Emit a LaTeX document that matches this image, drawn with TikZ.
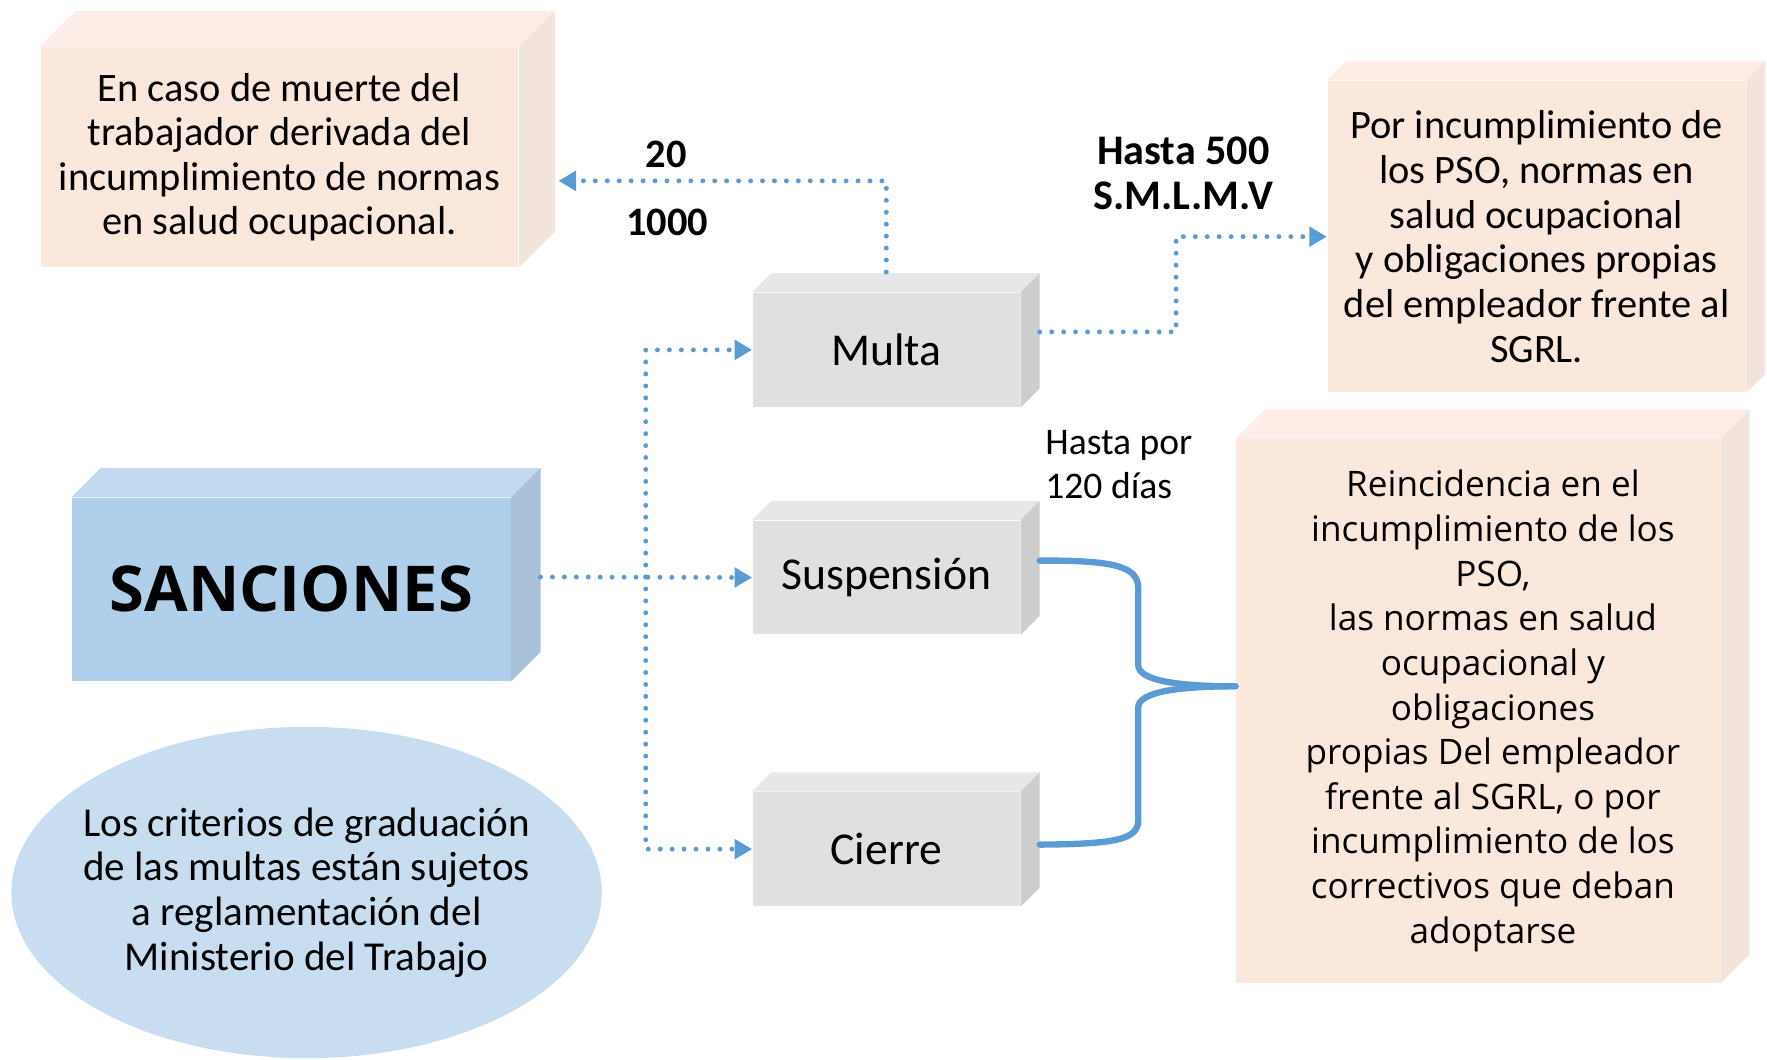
\documentclass[tikz,border=0pt]{standalone}
\usepackage{fontspec}
\setmainfont{Carlito}
\newfontfamily\segoe{Open Sans}
\usetikzlibrary{arrows.meta,positioning,shapes.geometric}
\definecolor{durazno}{HTML}{FBE8DD}
\definecolor{duraznotapa}{HTML}{FCEEE6}
\definecolor{duraznolado}{HTML}{F3E4DB}
\definecolor{gris}{HTML}{E0E0E0}
\definecolor{gristapa}{HTML}{E7E7E7}
\definecolor{grislado}{HTML}{CDCDCD}
\definecolor{celeste}{HTML}{B0CFEA}
\definecolor{celestetapa}{HTML}{C1D8EE}
\definecolor{celestelado}{HTML}{A8C0D8}
\definecolor{ovalo}{HTML}{C8DDF0}
\definecolor{linea}{HTML}{5B9BD5}
\def\px{0.01127cm}
% tapa y lado de una caja 3D: nodo, fondo, color tapa, color lado
\newcommand{\caras}[4]{%
	\fill[#3] (#1.north west) -- ++(#2,-#2) -- ([shift={(#2,-#2)}]#1.north east) -- (#1.north east) -- cycle;
	\fill[#4] (#1.north east) -- ++(#2,-#2) -- ([shift={(#2,-#2)}]#1.south east) -- (#1.south east) -- cycle;
}
\tikzset{
	caja/.style={rectangle,align=center,inner sep=0pt,font=\fontsize{11.5}{12.7}\selectfont},
	nota/.style={caja,fill=durazno},
	pieza/.style={caja,fill=gris,minimum width=237*\px,minimum height=101*\px,font=\fontsize{13}{15}\selectfont},
	punteado/.style={draw=linea,line width=1.4pt,dash pattern=on 0pt off 3.4pt,line cap=round},
	flecha/.style={punteado,-{Triangle[length=5pt,width=5.5pt]}},
	llave/.style={draw=linea,line width=1.8pt,line cap=round},
	cifra/.style={inner sep=0pt,align=center,font=\bfseries\fontsize{11.5}{14}\selectfont}
}
\begin{document}
\begin{tikzpicture}[x=0.01127cm,y=-0.01127cm]
	\useasboundingbox (0,0) rectangle (1568,940);
	
	\node[nota,minimum width=424*\px,minimum height=195*\px] (muerte) at (248,139.5) {En caso de muerte del\\trabajador derivada del\\incumplimiento de normas\\en salud ocupacional.};
	\node[nota,minimum width=371*\px,minimum height=276*\px] (pso) at (1363.5,210) {Por incumplimiento de\\los PSO, normas en\\salud ocupacional\\y obligaciones propias\\del empleador frente al\\SGRL.};
	\node[nota,minimum width=429*\px,minimum height=482*\px,font=\segoe\fontsize{10}{12.7}\selectfont] (reinc) at (1311.5,631) {\hspace*{0.3cm}\begin{tabular}{@{}c@{}}Reincidencia en el\\incumplimiento de los\\PSO,\\las normas en salud\\ocupacional y\\obligaciones\\propias Del empleador\\frente al SGRL, o por\\incumplimiento de los\\correctivos que deban\\adoptarse\end{tabular}};
	\node[pieza] (multa) at (786.5,310.5) {Multa};
	\node[pieza] (susp) at (786.5,512.5) {Suspensión};
	\node[pieza] (cierre) at (786.5,753.5) {Cierre};
	\node[caja,fill=celeste,minimum width=389*\px,minimum height=162*\px,font=\segoe\bfseries\fontsize{18}{20}\selectfont] (sanc) at (258.5,523) {SANCIONES};
	\node[ellipse,fill=ovalo,inner xsep=-13*\px,inner ysep=0pt,align=center,minimum width=524*\px,minimum height=294*\px,font=\fontsize{11.7}{12.7}\selectfont] (criterios) at (272,792) {Los criterios de graduación\\de las multas están sujetos\\a reglamentación del\\Ministerio del Trabajo};
	
	\caras{muerte}{32}{duraznotapa}{duraznolado}
	\caras{pso}{17}{duraznotapa}{duraznolado}
	\caras{reinc}{26}{duraznotapa}{duraznolado}
	\caras{multa}{17}{gristapa}{grislado}
	\caras{susp}{17}{gristapa}{grislado}
	\caras{cierre}{17}{gristapa}{grislado}
	\caras{sanc}{26}{celestetapa}{celestelado}
	
	\node[cifra] (veinte) at (591,137) {20};
	\node[cifra] (mil) at (592,197) {1000};
	\node[cifra,font=\bfseries\fontsize{12}{12.7}\selectfont] (smlmv) at (1050,154) {Hasta 500\\S.M.L.M.V};
	\node[inner sep=0pt,align=left,anchor=west,font=\fontsize{10.7}{12.5}\selectfont] (dias) at (927,412) {Hasta por\\120 días};
	
	\coordinate (rama) at (573,512);
	\coordinate (cuspide) at ([shift={(0,-22)}]reinc.west);
	
	\draw[flecha] ([shift={(0,-18)}]multa.north) |- ([shift={(35,21)}]muerte.east);
	\draw[flecha] ([shift={(17,-16)}]multa.east) -- ++(121,0) |- (pso.west);
	\draw[flecha] ([shift={(26,-11)}]sanc.east) -- (susp.west);
	\draw[flecha] (rama) |- (multa.west);
	\draw[flecha] (rama) |- (cierre.west);
	\draw[llave] ([shift={(17,-15)}]susp.east) .. controls (990,497) and (1010,503) .. (1010,522) -- (1010,590) .. controls (1010,604) and (1045,609) .. (cuspide);
	\draw[llave] ([shift={(17,-4)}]cierre.east) .. controls (990,749) and (1010,745) .. (1010,728) -- (1010,628) .. controls (1010,614) and (1045,609) .. (cuspide);
\end{tikzpicture}
\end{document}
